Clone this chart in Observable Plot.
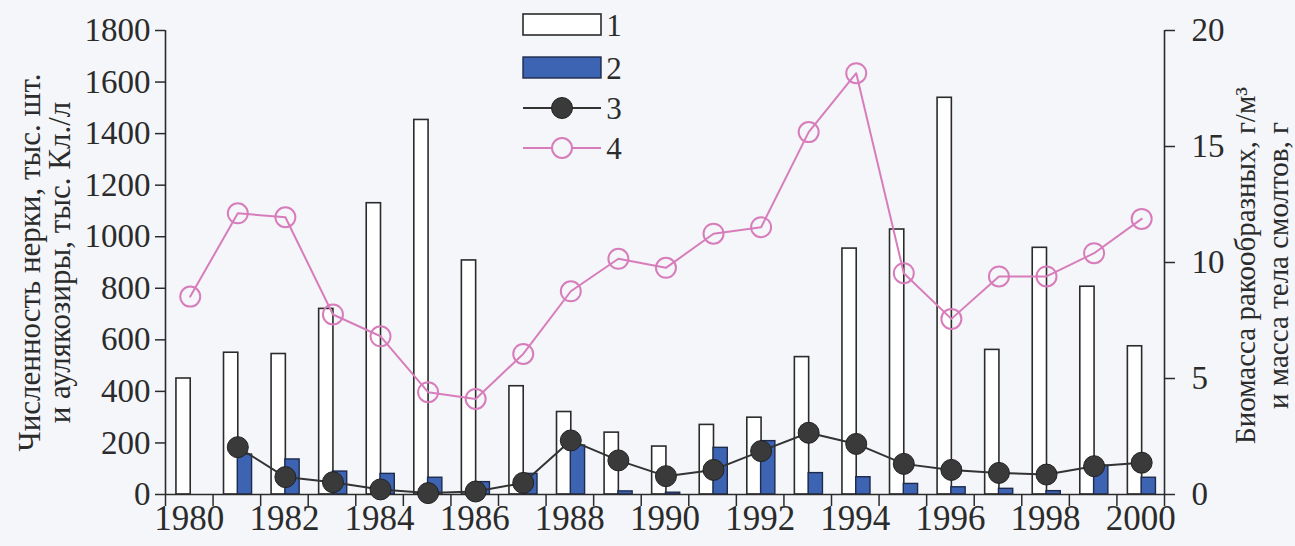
<!DOCTYPE html>
<html><head><meta charset="utf-8">
<script src="https://cdn.jsdelivr.net/npm/d3@7"></script>
<script src="https://cdn.jsdelivr.net/npm/@observablehq/plot@0.6"></script>
<style>
html,body{margin:0;padding:0;background:#f4f6f9;}
#chart{position:relative;width:1295px;height:546px;}
#chart svg, #chart svg text, #chart svg tspan { font-family: "Liberation Serif", "DejaVu Serif", serif !important; }
</style></head><body><div id="chart"></div>
<script>
// Data
const years = d3.range(1980, 2001);
// 1 — sockeye abundance, thousand ind. (left axis)
const series1 = [450, 550, 545, 720, 1130, 1453, 908, 420, 320, 240, 186, 270, 298, 533, 954, 1028, 1539, 561, 957, 806, 575];
// 2 — Aulacoseira, thousand cells/l (left axis)
const series2 = [null, 155, 136, 89, 80, 65, 48, 80, 190, 12, 7, 181, 207, 83, 67, 41, 28, 22, 13, 112, 65];
// 3 — crustacean biomass, g/m3 (right axis)
const series3 = [null, 2.04, 0.75, 0.53, 0.22, 0.06, 0.13, 0.5, 2.33, 1.47, 0.79, 1.06, 1.87, 2.66, 2.18, 1.32, 1.06, 0.93, 0.86, 1.22, 1.37];
// 4 — smolt body mass, g (right axis)
const series4 = [8.53, 12.12, 11.95, 7.76, 6.82, 4.41, 4.12, 6.06, 8.76, 10.16, 9.77, 11.24, 11.52, 15.62, 18.16, 9.54, 7.57, 9.40, 9.40, 10.40, 11.88];
const leftTicks = [0, 200, 400, 600, 800, 1000, 1200, 1400, 1600, 1800];
const rightTicks = [0, 5, 10, 15, 20];
const xLabelYears = d3.range(1980, 2001, 2);
const legendLabels = ["1", "2", "3", "4"];
const leftTitle = "Численность нерки, тыс. шт.\nи аулякозиры, тыс. Кл./л";
const rightTitle = "Биомасса ракообразных, г/м³\nи масса тела смолтов, г";

const K = 1800 / 20; // right axis -> left axis units
const rows = years.map((y, i) => ({year: y, s1: series1[i], s2: series2[i], s3: series3[i], s4: series4[i]}));

const ink = "#2b2b2b";
const blue = "#3d63b3";
const pink = "#d77dbb";
const bg = "#f4f6f9";

const plot = Plot.plot({
  width: 1295, height: 546,
  marginLeft: 165, marginRight: 131, marginTop: 30, marginBottom: 52,
  x: {domain: [1980, 2001]},
  y: {domain: [0, 1800]},
  style: {background: "transparent", color: ink},
  marks: [
    Plot.rectY(rows, {x1: d => d.year + 0.23, x2: d => d.year + 0.53, y1: 0, y2: "s1", fill: "white", stroke: ink, strokeWidth: 1.6}),
    Plot.rectY(rows.filter(d => d.s2 != null), {x1: d => d.year + 0.52, x2: d => d.year + 0.82, y1: 0, y2: "s2", fill: blue, stroke: "#1e2b4d", strokeWidth: 1.4}),
    Plot.ruleY([0], {stroke: ink, strokeWidth: 1.6}),
    Plot.ruleX([1980, 2001], {stroke: ink, strokeWidth: 1.6}),
    Plot.axisX({ticks: d3.range(1980, 2002), tickSize: 12, tickFormat: () => "", stroke: ink, strokeWidth: 1.5}),
    Plot.axisX({ticks: xLabelYears.map(d => d + 0.5), tickSize: 0, tickPadding: 11, tickFormat: d => String(Math.round(d - 0.5)), fontSize: 35, fill: ink, label: null}),
    Plot.axisY({anchor: "left", ticks: leftTicks, tickSize: 10, tickPadding: 5, tickFormat: d => String(d), fontSize: 33, stroke: ink, strokeWidth: 1.5, fill: ink, label: null}),
    Plot.axisY({anchor: "right", ticks: rightTicks.map(d => d * K), tickSize: 10, tickPadding: 17, tickFormat: d => String(Math.round(d / K)), fontSize: 33, stroke: ink, strokeWidth: 1.5, fill: ink, label: null}),
    Plot.line(rows, {x: d => d.year + 0.52, y: d => d.s3 == null ? NaN : d.s3 * K, stroke: "#333", strokeWidth: 2}),
    Plot.dot(rows.filter(d => d.s3 != null), {x: d => d.year + 0.52, y: d => d.s3 * K, r: 10.5, fill: "#3a3a3a", stroke: "#222", strokeWidth: 1}),
    Plot.line(rows, {x: d => d.year + 0.52, y: d => d.s4 * K, stroke: pink, strokeWidth: 2}),
    Plot.dot(rows, {x: d => d.year + 0.52, y: d => d.s4 * K, r: 10, fill: "none", stroke: pink, strokeWidth: 2}),
    Plot.text([leftTitle], {frameAnchor: "left", textAnchor: "middle", dx: -120, rotate: -90, fontSize: 31, lineHeight: 0.97, fill: ink}),
    Plot.text([rightTitle], {frameAnchor: "right", textAnchor: "middle", dx: 96, dy: 3, rotate: -90, fontSize: 29, lineHeight: 1.15, fill: ink})
  ]
});

document.getElementById("chart").appendChild(plot);

// Legend
const svg = d3.select(plot);
const lg = svg.append("g").attr("font-size", 31).attr("fill", ink);
lg.append("rect").attr("x", 523).attr("y", 14).attr("width", 78).attr("height", 21).attr("fill", "white").attr("stroke", ink).attr("stroke-width", 1.6);
lg.append("rect").attr("x", 523).attr("y", 57).attr("width", 78).attr("height", 21).attr("fill", blue).attr("stroke", "#1e2b4d").attr("stroke-width", 1.4);
lg.append("line").attr("x1", 523).attr("x2", 601).attr("y1", 108).attr("y2", 108).attr("stroke", "#333").attr("stroke-width", 2);
lg.append("circle").attr("cx", 562).attr("cy", 108).attr("r", 10.5).attr("fill", "#3a3a3a").attr("stroke", "#222");
lg.append("line").attr("x1", 523).attr("x2", 601).attr("y1", 148).attr("y2", 148).attr("stroke", pink).attr("stroke-width", 2);
lg.append("circle").attr("cx", 562).attr("cy", 148).attr("r", 10).attr("fill", bg).attr("stroke", pink).attr("stroke-width", 2);
legendLabels.forEach((t, i) => {
  lg.append("text").attr("x", 614).attr("y", [25, 68, 108, 148][i]).attr("dy", "0.35em").text(t);
});
</script></body></html>
